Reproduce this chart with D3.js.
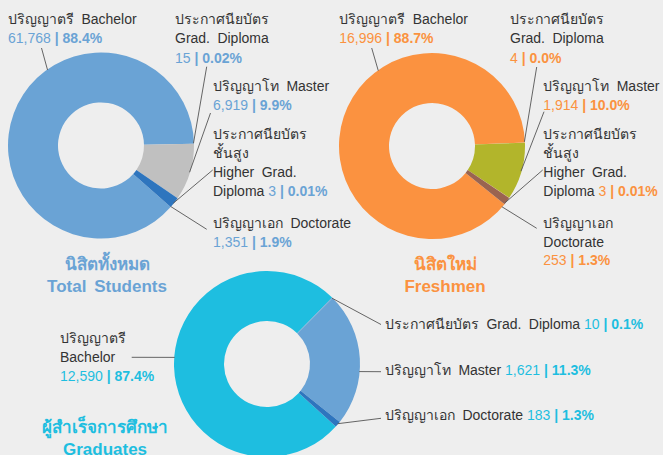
<!DOCTYPE html>
<html>
<head>
<meta charset="utf-8">
<script src="https://cdn.jsdelivr.net/npm/d3@7"></script>
<style>
  html, body { margin: 0; padding: 0; background: #eeeeee; }
  svg { display: block; }
  text { font-family: "Liberation Sans", Arial, Helvetica, sans-serif; }
</style>
</head>
<body>
<svg id="chart" width="663" height="455"></svg>
<script>
// ---------------- DATA ----------------
const totalCategoriesEn = ["Bachelor", "Grad. Diploma", "Master", "Higher Grad. Diploma", "Doctorate"];
const totalValues   = [61768, 15, 6919, 3, 1351];
const totalPercents = ["88.4%", "0.02%", "9.9%", "0.01%", "1.9%"];

const freshCategoriesEn = ["Bachelor", "Grad. Diploma", "Master", "Higher Grad. Diploma", "Doctorate"];
const freshValues   = [16996, 4, 1914, 3, 253];
const freshPercents = ["88.7%", "0.0%", "10.0%", "0.01%", "1.3%"];

const gradCategoriesEn = ["Bachelor", "Grad. Diploma", "Master", "Doctorate"];
const gradValues   = [12590, 10, 1621, 183];
const gradPercents = ["87.4%", "0.1%", "11.3%", "1.3%"];
// slice shares as drawn in the reference picture (the drawing is not to scale with the values)
const gradDrawnShare = [75.6, 0.1, 23.25, 1.05];

const chartTitles = [
  ["นิสิตทั้งหมด", "Total Students"],
  ["นิสิตใหม่", "Freshmen"],
  ["ผู้สำเร็จการศึกษา", "Graduates"]
];

// ---------------- STYLE / LAYOUT ----------------
const R_OUT = 93, R_IN = 43;
const TEXT_DARK = "#333333";
const FS = 14;
const fmt = d3.format(",");
const deg = Math.PI / 180;
const svg = d3.select("#chart");

// horizontal stretch for Thai runs (fallback Thai font is narrower than the original)
let THAI_K = 1;
{
  const probe = svg.append("text").attr("font-size", FS).text("ปริญญาตรี");
  const w = probe.node().getComputedTextLength();
  if (w > 0) THAI_K = 62 / w;
  probe.remove();
}

function addRuns(parent, str, first) {
  // split into Thai / non-Thai runs
  const parts = str.match(/[\u0E00-\u0E7F]+|[^\u0E00-\u0E7F]+/g) || [];
  let sp = first;
  parts.forEach(p => {
    const ts = parent.append("tspan").text(p);
    if (sp) { sp(ts); sp = null; }
    if (/[\u0E00-\u0E7F]/.test(p)) {
      const w = ts.node().getComputedTextLength();
      if (w > 0 && THAI_K > 1.02) {
        ts.attr("textLength", (w * THAI_K).toFixed(1)).attr("lengthAdjust", "spacingAndGlyphs");
      }
    }
  });
}

function drawDonut(cfg) {
  const g = svg.append("g").attr("transform", `translate(${cfg.cx},${cfg.cy})`);
  const pie = d3.pie().sort(null).value(d => d.w)
    .startAngle(cfg.a0 * deg).endAngle(cfg.a0 * deg + 2 * Math.PI);
  const arc = d3.arc().innerRadius(R_IN).outerRadius(R_OUT);
  const data = cfg.values.map((v, i) => ({ v, w: cfg.weights ? cfg.weights[i] : v, i }));
  g.selectAll("path.slice").data(pie(data)).join("path")
    .attr("class", "slice")
    .attr("d", arc)
    .attr("fill", d => cfg.colors[d.data.i]);

  // leader lines
  cfg.labels.forEach(L => {
    const a = L.angle * deg;
    const x0 = Math.sin(a) * (R_OUT - 0.5) + cfg.cx;
    const y0 = -Math.cos(a) * (R_OUT - 0.5) + cfg.cy;
    svg.append("line")
      .attr("x1", x0).attr("y1", y0)
      .attr("x2", L.lx).attr("y2", L.ly)
      .attr("stroke", "#555").attr("stroke-width", 0.9);
  });

  // label texts
  cfg.labels.forEach(L => {
    const i = L.idx;
    const t = svg.append("text")
      .attr("font-size", FS)
      .attr("fill", TEXT_DARK)
      .style("word-spacing", "3.5px");
    L.lines.forEach((line, k) => {
      addRuns(t, line, ts => ts.attr("x", L.x).attr("y", L.y + k * L.lh));
    });
    const num = t.append("tspan").attr("fill", cfg.accent).style("word-spacing", "0px");
    if (L.inline) {
      num.text(" " + fmt(cfg.values[i]) + " ");
    } else {
      num.attr("x", L.x).attr("y", L.y + L.lines.length * L.lh).text(fmt(cfg.values[i]) + " ");
    }
    t.append("tspan").attr("fill", cfg.accent).attr("font-weight", "bold").style("word-spacing", "0px").text("| ");
    t.append("tspan").attr("fill", cfg.accent).attr("font-weight", "bold").style("word-spacing", "0px").text(cfg.percents[i]);
  });

  // title
  const tt = svg.append("text")
    .attr("text-anchor", "middle")
    .attr("font-size", 17)
    .attr("font-weight", "bold")
    .attr("fill", cfg.accent);
  tt.append("tspan").attr("x", cfg.tx).attr("y", cfg.ty).text(cfg.title[0]);
  tt.append("tspan").attr("x", cfg.tx).attr("y", cfg.ty + 21.5).style("word-spacing", "3px").text(cfg.title[1]);
}

// ---- Total Students ----
drawDonut({
  cx: 101, cy: 145.5, a0: 131.5,
  values: totalValues, percents: totalPercents,
  colors: ["#6aa3d5", "#9fc2e4", "#c0c0c0", "#2e75be", "#2e75be"],
  accent: "#6aa3d5",
  title: chartTitles[0], tx: 107, ty: 270,
  labels: [
    { idx: 0, angle: -35.3, lx: 41.5, ly: 48, x: 8, y: 24, lh: 19.3, lines: ["ปริญญาตรี Bachelor"] },
    { idx: 1, angle: 88.6, lx: 206.7, ly: 66.7, x: 175, y: 24, lh: 19.3, lines: ["ประกาศนียบัตร", "Grad. Diploma"] },
    { idx: 2, angle: 106.8, lx: 210.5, ly: 113, x: 213, y: 90.7, lh: 19.3, lines: ["ปริญญาโท Master"] },
    { idx: 3, angle: 128.6, lx: 212.7, ly: 170, x: 213, y: 139, lh: 19, lines: ["ประกาศนียบัตร", "ชั้นสูง", "Higher Grad.", "Diploma"], inline: true },
    { idx: 4, angle: 131.2, lx: 206.7, ly: 229.3, x: 213, y: 228, lh: 19, lines: ["ปริญญาเอก Doctorate"] }
  ]
});

// ---- Freshmen ----
drawDonut({
  cx: 432, cy: 146, a0: 128.7,
  values: freshValues, percents: freshPercents,
  colors: ["#fb9240", "#fcb47a", "#b2b52b", "#fcb47a", "#9a6450"],
  accent: "#fb9240",
  title: chartTitles[1], tx: 445, ty: 270,
  labels: [
    { idx: 0, angle: -35.5, lx: 371.7, ly: 48, x: 339.3, y: 24, lh: 19.3, lines: ["ปริญญาตรี Bachelor"] },
    { idx: 1, angle: 87.4, lx: 536.7, ly: 67, x: 510, y: 24, lh: 19.3, lines: ["ประกาศนียบัตร", "Grad. Diploma"] },
    { idx: 2, angle: 105.8, lx: 544, ly: 111.7, x: 543.3, y: 90.7, lh: 19.3, lines: ["ปริญญาโท Master"] },
    { idx: 3, angle: 127.8, lx: 542.7, ly: 170, x: 543.3, y: 139, lh: 19, lines: ["ประกาศนียบัตร", "ชั้นสูง", "Higher Grad.", "Diploma"], inline: true },
    { idx: 4, angle: 131, lx: 536.7, ly: 228.3, x: 543.3, y: 228, lh: 18.5, lines: ["ปริญญาเอก", "Doctorate"] }
  ]
});

// ---- Graduates ----
drawDonut({
  cx: 267, cy: 364, a0: 132.3, weights: gradDrawnShare,
  values: gradValues, percents: gradPercents,
  colors: ["#1ebee0", "#6aa3d5", "#6aa3d5", "#2e75be"],
  accent: "#1ebee0",
  title: chartTitles[2], tx: 105, ty: 433,
  labels: [
    { idx: 0, angle: 274.1, lx: 131.7, ly: 357.3, x: 60, y: 343.3, lh: 18.8, lines: ["ปริญญาตรี", "Bachelor"] },
    { idx: 1, angle: 44.6, lx: 381, ly: 324.5, x: 385, y: 329.3, lh: 19, lines: ["ประกาศนียบัตร Grad. Diploma"], inline: true },
    { idx: 2, angle: 94.7, lx: 381, ly: 371.7, x: 385, y: 375, lh: 19, lines: ["ปริญญาโท Master"], inline: true },
    { idx: 3, angle: 130.2, lx: 381, ly: 418.3, x: 385, y: 420, lh: 19, lines: ["ปริญญาเอก Doctorate"], inline: true }
  ]
});
</script>
</body>
</html>
